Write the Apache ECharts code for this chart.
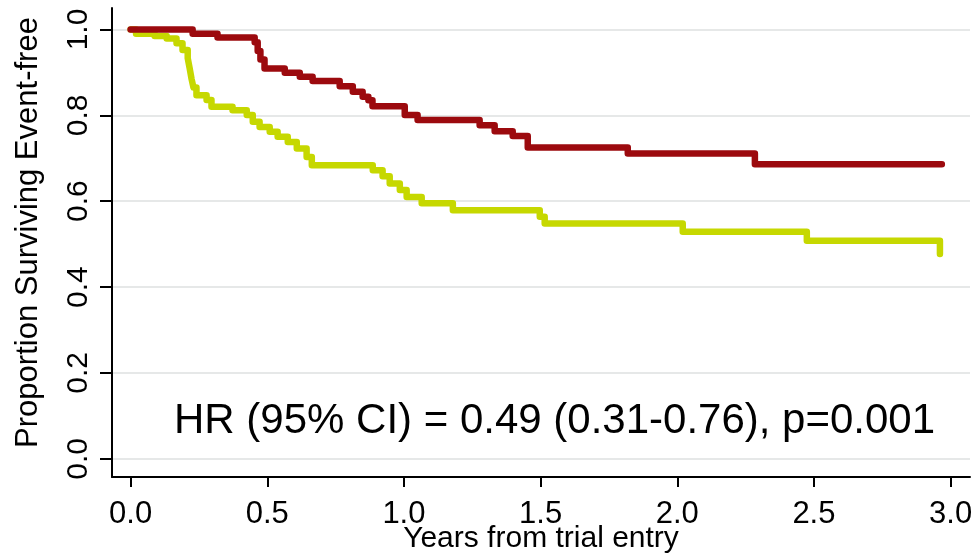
<!DOCTYPE html>
<html>
<head>
<meta charset="utf-8">
<script src="https://cdn.jsdelivr.net/npm/echarts@6/dist/echarts.min.js"></script>
<style>
  html, body { margin: 0; padding: 0; background: #fff; }
  #chart { width: 974px; height: 554px; }
</style>
</head>
<body>
<div id="chart"></div>
<script>
// KM curve, dark red group (years, proportion event-free)
const redTimes = [0, 0.227, 0.318, 0.454, 0.465, 0.475, 0.49, 0.564, 0.619, 0.666, 0.765, 0.813, 0.849, 0.87, 0.885,
  1.003, 1.05, 1.277, 1.332, 1.398, 1.453, 1.819, 2.284, 2.968];
const redSurv = [1.0, 0.99, 0.981, 0.97, 0.95, 0.93, 0.909, 0.899, 0.89, 0.88, 0.868, 0.855, 0.843, 0.835, 0.821,
  0.801, 0.789, 0.777, 0.763, 0.752, 0.725, 0.711, 0.686, 0.686];

// yellow-green group
const yelTimes = [0, 0.02, 0.088, 0.132, 0.168, 0.19, 0.209, 0.216, 0.223, 0.23, 0.241, 0.278, 0.296, 0.373, 0.425,
  0.447, 0.472, 0.509, 0.538, 0.575, 0.608, 0.644, 0.663, 0.886, 0.922, 0.948, 0.985, 1.01, 1.065, 1.179,
  1.497, 1.515, 2.02, 2.474, 2.961];
const yelSurv = [1.0, 0.99, 0.985, 0.979, 0.968, 0.952, 0.933, 0.91, 0.885, 0.865, 0.847, 0.836, 0.82, 0.812, 0.801,
  0.785, 0.773, 0.762, 0.75, 0.738, 0.723, 0.703, 0.684, 0.672, 0.658, 0.641, 0.626, 0.61, 0.595, 0.579,
  0.564, 0.548, 0.529, 0.508, 0.477];

const xTicks = [0, 0.5, 1, 1.5, 2, 2.5, 3];
const yTicks = [0, 0.2, 0.4, 0.6, 0.8, 1.0];
const annotation = 'HR (95% CI) = 0.49 (0.31-0.76), p=0.001';

function pairs(xs, ys) {
  return xs.map((x, i) => [x, ys[i]]);
}

const font = '"Liberation Sans", Arial, sans-serif';
const chart = echarts.init(document.getElementById('chart'));

chart.setOption({
  backgroundColor: '#fff',
  animation: false,
  grid: { left: 112, right: 4, top: 8, bottom: 77, containLabel: false, outerBoundsMode: 'none' },
  xAxis: {
    type: 'value',
    min: -0.068,
    max: 3.071,
    name: 'Years from trial entry',
    nameLocation: 'middle',
    nameGap: 47,
    nameMoveOverlap: false,
    nameTextStyle: { fontFamily: font, fontSize: 30, color: '#000' },
    axisLine: { show: true, onZero: false, lineStyle: { color: '#000', width: 2 } },
    axisTick: { show: true, length: 10, customValues: xTicks, lineStyle: { color: '#000', width: 2 } },
    axisLabel: {
      customValues: xTicks, margin: 22, fontFamily: font, fontSize: 31, color: '#000',
      formatter: v => v.toFixed(1)
    },
    splitLine: { show: false }
  },
  yAxis: {
    type: 'value',
    min: -0.0424,
    max: 1.05,
    name: 'Proportion Surviving Event-free',
    nameLocation: 'middle',
    nameRotate: 90,
    nameGap: 68,
    nameMoveOverlap: false,
    nameTextStyle: { fontFamily: font, fontSize: 31, color: '#000', padding: [0, 0, 0, 20] },
    axisLine: { show: true, onZero: false, lineStyle: { color: '#000', width: 2 } },
    axisTick: { show: true, length: 12, customValues: yTicks, lineStyle: { color: '#000', width: 2 } },
    axisLabel: {
      customValues: yTicks, rotate: 90, margin: 18, fontFamily: font, fontSize: 30, color: '#000',
      formatter: v => v.toFixed(1)
    },
    splitLine: { show: true, lineStyle: { color: '#e6e8e8', width: 2 } }
  },
  graphic: [{
    type: 'text',
    left: 174,
    top: 400,
    style: { text: annotation, font: '42px ' + font, fill: '#000' }
  }],
  series: [
    {
      name: 'yellow',
      type: 'line',
      step: 'end',
      symbol: 'none',
      lineStyle: { color: '#c6d800', width: 6.5, cap: 'round', join: 'round' },
      data: pairs(yelTimes, yelSurv)
    },
    {
      name: 'red',
      type: 'line',
      step: 'end',
      symbol: 'none',
      lineStyle: { color: '#9c0a0e', width: 6.5, cap: 'round', join: 'round' },
      data: pairs(redTimes, redSurv)
    }
  ]
});
</script>
</body>
</html>
